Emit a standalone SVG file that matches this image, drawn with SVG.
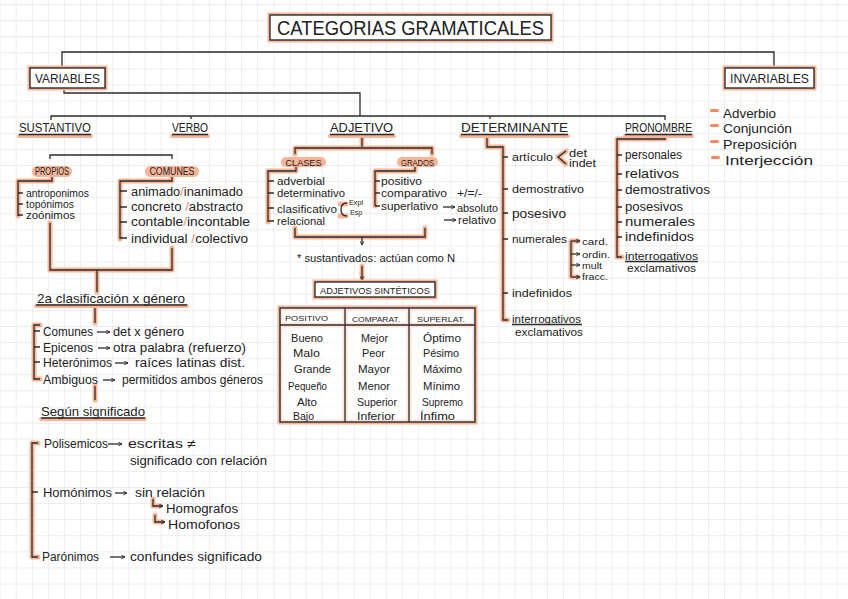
<svg xmlns="http://www.w3.org/2000/svg" width="848" height="599" viewBox="0 0 848 599">
<defs>
<pattern id="grid" patternUnits="userSpaceOnUse" x="15.7" y="4" width="16.1" height="16.1">
<path d="M0 0 V16.1 M0 0 H16.1" stroke="#e6e6e6" stroke-width="1.3" fill="none"/>
</pattern>
<marker id="ah" viewBox="0 0 8 8" refX="7" refY="4" markerWidth="5" markerHeight="5" orient="auto" markerUnits="userSpaceOnUse">
<path d="M1 1 L7 4 L1 7" fill="none" stroke="#2b2b2b" stroke-width="1.4"/>
</marker>
<style>
.t{font-family:"Liberation Sans",Arial,sans-serif;fill:#222}
.c{text-anchor:middle}
.g{stroke:#f7b598;stroke-width:5;fill:none;stroke-linecap:round;stroke-linejoin:round}
.d{stroke:#2b2b2b;stroke-width:1.3;fill:none}
.a{stroke:#2b2b2b;stroke-width:1.3;fill:none;marker-end:url(#ah)}
.o{fill:#ef8a62}
.pill{fill:#f7b598}
.box{fill:#fff;stroke:#2b2b2b;stroke-width:1.4}
.boxg{fill:none;stroke:#f7b598;stroke-width:5}
.hu{stroke:#f7b598;stroke-width:4;fill:none;stroke-linecap:round}
</style>
</defs>
<rect width="848" height="599" fill="#fff"/>
<rect width="848" height="599" fill="url(#grid)"/>

<g id="connectors">
<path class="d" d="M62 68 V52 H774 V68"/>
<path class="d" d="M64 88 V93 H360 V116"/>
<path class="d" d="M51 120 V116 H665 V120 M191 116 V119 M490 116 V119"/>
<path class="d" d="M50 159 V155 H172 V159"/>
<path class="g" d="M52 177 V181 H18 V216"/>
<path class="d" d="M52 177 V181 H18 V216 M18 193 H23 M18 204 H23 M18 215 H23"/>
<path class="g" d="M172 177 V181 H120 V239"/>
<path class="d" d="M172 177 V181 H120 V239 M120 191 H127 M120 207 H127 M120 222 H127 M120 238 H127"/>
<path class="g" d="M50 223 V270 H172 V248 M97 270 V292"/>
<path class="d" d="M50 223 V270 H172 V248 M97 270 V292"/>
<path class="g" d="M95 307 V323"/>
<path class="d" d="M95 307 V323"/>
<path class="g" d="M40 325 H34 V379 H40"/>
<path class="d" d="M40 325 H34 V379 H40 M34 331 H40 M34 347 H40 M34 362 H40"/>
<path class="a" d="M97 332 H110"/>
<path class="a" d="M98 348 H110"/>
<path class="a" d="M115 363 H128"/>
<path class="a" d="M103 380 H115"/>
<path class="g" d="M95 386 V400"/>
<path class="d" d="M95 386 V400"/>
<path class="g" d="M38 443 H32 V557 H38"/>
<path class="d" d="M38 443 H32 V557 H38 M32 492 H38"/>
<path class="a" d="M108 444 H122"/>
<path class="a" d="M115 493 H127"/>
<path class="a" d="M110 557 H125"/>
<path class="g" d="M153 499 V506 H160 M155 515 V522 H162"/>
<path class="a" d="M153 499 V506 H163"/>
<path class="a" d="M155 515 V522 H165"/>
<path class="g" d="M362 138 V147 M295 154 V148 H432 V154"/>
<path class="d" d="M362 138 V147 M295 154 V148 H432 V154"/>
<path class="g" d="M296 167 V171 H268 V222"/>
<path class="d" d="M296 167 V171 H268 V222 M268 181 H274 M268 193 H274 M268 208 H274 M268 221 H274"/>
<path class="g" d="M415 167 V171 H375 V206"/>
<path class="d" d="M415 167 V171 H375 V206 M375 181 H380 M375 193 H380 M375 206 H380"/>
<path class="a" d="M443 207 H455"/>
<path class="a" d="M444 220 H456"/>
<path class="g" d="M340 204 L346 204 M340 216 L346 216"/>
<path class="d" d="M347 203 Q341 203 341 209.5 Q341 216 347 216"/>
<path class="g" d="M295 228 V237 H425 V228"/>
<path class="d" d="M295 228 V237 H425 V228"/>
<path class="a" d="M362 237 V245"/>
<path class="g" d="M362 266 V278"/>
<path class="a" d="M362 266 V280"/>
<path class="g" d="M487 136 V147 H503 V320 H508"/>
<path class="d" d="M487 136 V147 H503 V320 H508 M503 157 H508 M503 189 H508 M503 213 H508 M503 239 H508 M503 293 H508"/>
<path class="g" d="M566 151 L558 157 L566 164"/>
<path class="d" d="M566 151 L558 157 L566 164"/>
<path class="g" d="M578 241 H571 V277 H578"/>
<path class="a" d="M571 241 H580"/>
<path class="a" d="M571 254 H580"/>
<path class="a" d="M571 265 H580"/>
<path class="a" d="M571 277 V277 H580"/>
<path class="d" d="M571 241 V277"/>
<path class="g" d="M665 136 V139 H617 V257 H622"/>
<path class="d" d="M665 136 V139 H617 V257 H622 M617 155 H622 M617 174 H622 M617 190 H622 M617 207 H622 M617 222 H622 M617 237 H622"/>
</g>

<g id="title">
<rect class="boxg" x="270" y="15" width="281" height="25"/>
<rect class="box" x="270" y="15" width="281" height="25"/>
<text class="t" x="277" y="35" font-size="20" textLength="267" lengthAdjust="spacingAndGlyphs">CATEGORIAS  GRAMATICALES</text>
</g>

<g id="variables">
<rect class="boxg" x="30" y="68" width="75" height="20"/>
<rect class="box" x="30" y="68" width="75" height="20"/>
<text class="t" x="35" y="83" font-size="13" textLength="65" lengthAdjust="spacingAndGlyphs">VARIABLES</text>
</g>

<g id="invariables">
<rect class="boxg" x="725" y="68" width="89" height="20"/>
<rect class="box" x="725" y="68" width="89" height="20"/>
<text class="t" x="730" y="83" font-size="13" textLength="79" lengthAdjust="spacingAndGlyphs">INVARIABLES</text>
<rect class="o" x="710" y="109" width="9" height="3" rx="1.5"/>
<rect class="o" x="710" y="124" width="9" height="3" rx="1.5"/>
<rect class="o" x="710" y="140" width="9" height="3" rx="1.5"/>
<rect class="o" x="711" y="156" width="9" height="3" rx="1.5"/>
<text class="t" x="723" y="117.5" font-size="13.5" textLength="53" lengthAdjust="spacingAndGlyphs">Adverbio</text>
<text class="t" x="723" y="132.5" font-size="13.5" textLength="69" lengthAdjust="spacingAndGlyphs">Conjunción</text>
<text class="t" x="723" y="148.5" font-size="13.5" textLength="74" lengthAdjust="spacingAndGlyphs">Preposición</text>
<text class="t" x="725" y="164.5" font-size="13.5" textLength="88" lengthAdjust="spacingAndGlyphs">Interjección</text>
</g>

<g id="headings">
<path class="hu" d="M19 136 H91 M172 136 H208 M330 136 H394 M461 136 H568 M625 136 H692"/>
<path class="d" d="M19 134.5 H91 M172 134.5 H208 M330 134.5 H394 M461 134.5 H568 M625 134.5 H692" stroke-width="1"/>
<text class="t" x="19" y="132" font-size="12" textLength="72" lengthAdjust="spacingAndGlyphs">SUSTANTIVO</text>
<text class="t" x="172" y="132" font-size="12" textLength="36" lengthAdjust="spacingAndGlyphs">VERBO</text>
<text class="t" x="330" y="132" font-size="12" textLength="63" lengthAdjust="spacingAndGlyphs">ADJETIVO</text>
<text class="t" x="461" y="132" font-size="12" textLength="107" lengthAdjust="spacingAndGlyphs">DETERMINANTE</text>
<text class="t" x="625" y="132" font-size="12" textLength="67" lengthAdjust="spacingAndGlyphs">PRONOMBRE</text>
</g>

<g id="sustantivo">
<rect class="pill" x="32" y="166" width="40" height="11" rx="5.5"/>
<text class="t c" x="52" y="175" font-size="10" textLength="34" lengthAdjust="spacingAndGlyphs">PROPIOS</text>
<rect class="pill" x="145" y="166" width="54" height="11" rx="5.5"/>
<text class="t c" x="172" y="175" font-size="10" textLength="45" lengthAdjust="spacingAndGlyphs">COMUNES</text>
<text class="t" x="26" y="196.5" font-size="10" textLength="63" lengthAdjust="spacingAndGlyphs">antroponimos</text>
<text class="t" x="26" y="207.5" font-size="10" textLength="48" lengthAdjust="spacingAndGlyphs">topónimos</text>
<text class="t" x="26" y="218.5" font-size="10" textLength="49" lengthAdjust="spacingAndGlyphs">zoónimos</text>
<text class="t" x="131" y="195.5" font-size="12.5" textLength="112" lengthAdjust="spacingAndGlyphs">animado<tspan class="o">/</tspan>inanimado</text>
<text class="t" x="131" y="211" font-size="12.5" textLength="112" lengthAdjust="spacingAndGlyphs">concreto <tspan class="o">/</tspan>abstracto</text>
<text class="t" x="131" y="226" font-size="12.5" textLength="119" lengthAdjust="spacingAndGlyphs">contable<tspan class="o">/</tspan>incontable</text>
<text class="t" x="131" y="242.5" font-size="12.5" textLength="117" lengthAdjust="spacingAndGlyphs">individual <tspan class="o">/</tspan>colectivo</text>
</g>

<g id="genero">
<path class="hu" d="M36 306 H187"/>
<path class="d" d="M36 305 H187" stroke-width="1"/>
<text class="t" x="37" y="303" font-size="13" textLength="148" lengthAdjust="spacingAndGlyphs">2a clasificación x género</text>
<text class="t" x="43" y="335.5" font-size="12.5" textLength="50" lengthAdjust="spacingAndGlyphs">Comunes</text>
<text class="t" x="113" y="335.5" font-size="12.5" textLength="71" lengthAdjust="spacingAndGlyphs">det x género</text>
<text class="t" x="43" y="351.5" font-size="12.5" textLength="50" lengthAdjust="spacingAndGlyphs">Epicenos</text>
<text class="t" x="113" y="351.5" font-size="12.5" textLength="133" lengthAdjust="spacingAndGlyphs">otra palabra (refuerzo)</text>
<text class="t" x="43" y="366.5" font-size="12.5" textLength="69" lengthAdjust="spacingAndGlyphs">Heterónimos</text>
<text class="t" x="135" y="366.5" font-size="12.5" textLength="110" lengthAdjust="spacingAndGlyphs">raíces latinas dist.</text>
<text class="t" x="43" y="383.5" font-size="12.5" textLength="55" lengthAdjust="spacingAndGlyphs">Ambiguos</text>
<text class="t" x="122" y="383.5" font-size="12.5" textLength="141" lengthAdjust="spacingAndGlyphs">permitidos ambos géneros</text>
</g>

<g id="significado">
<path class="hu" d="M41 419 H145"/>
<path class="d" d="M41 418 H145" stroke-width="1"/>
<text class="t" x="41" y="415.5" font-size="13" textLength="104" lengthAdjust="spacingAndGlyphs">Según significado</text>
<text class="t" x="44" y="447.5" font-size="12.5" textLength="64" lengthAdjust="spacingAndGlyphs">Polisemicos</text>
<text class="t" x="128" y="447.5" font-size="12.5" textLength="68" lengthAdjust="spacingAndGlyphs">escritas ≠</text>
<text class="t" x="130" y="464.5" font-size="12.5" textLength="137" lengthAdjust="spacingAndGlyphs">significado con relación</text>
<text class="t" x="43" y="496.5" font-size="12.5" textLength="69" lengthAdjust="spacingAndGlyphs">Homónimos</text>
<text class="t" x="135" y="496.5" font-size="12.5" textLength="70" lengthAdjust="spacingAndGlyphs">sin relación</text>
<text class="t" x="166" y="512.5" font-size="12.5" textLength="72" lengthAdjust="spacingAndGlyphs">Homografos</text>
<text class="t" x="168" y="528.5" font-size="12.5" textLength="72" lengthAdjust="spacingAndGlyphs">Homofonos</text>
<text class="t" x="42" y="560.5" font-size="12.5" textLength="57" lengthAdjust="spacingAndGlyphs">Parónimos</text>
<text class="t" x="130" y="560.5" font-size="12.5" textLength="132" lengthAdjust="spacingAndGlyphs">confundes significado</text>
</g>

<g id="adjetivo">
<rect class="pill" x="281" y="157" width="45" height="10" rx="5"/>
<text class="t c" x="303.5" y="165.5" font-size="9.5" textLength="36" lengthAdjust="spacingAndGlyphs">CLASES</text>
<rect class="pill" x="397" y="157" width="41" height="10" rx="5"/>
<text class="t c" x="417.5" y="165.5" font-size="9.5" textLength="33" lengthAdjust="spacingAndGlyphs">GRADOS</text>
<text class="t" x="277" y="185" font-size="11" textLength="48" lengthAdjust="spacingAndGlyphs">adverbial</text>
<text class="t" x="277" y="197" font-size="11" textLength="68" lengthAdjust="spacingAndGlyphs">determinativo</text>
<text class="t" x="277" y="213" font-size="11" textLength="60" lengthAdjust="spacingAndGlyphs">clasificativo</text>
<text class="t" x="349" y="205" font-size="6.5" textLength="14" lengthAdjust="spacingAndGlyphs">Expl</text>
<text class="t" x="350" y="215" font-size="6.5" textLength="12" lengthAdjust="spacingAndGlyphs">Esp</text>
<text class="t" x="277" y="225" font-size="11" textLength="48" lengthAdjust="spacingAndGlyphs">relacional</text>
<text class="t" x="381" y="185" font-size="11" textLength="41" lengthAdjust="spacingAndGlyphs">positivo</text>
<text class="t" x="381" y="197" font-size="11" textLength="66" lengthAdjust="spacingAndGlyphs">comparativo</text>
<text class="t" x="457" y="197" font-size="11" textLength="25" lengthAdjust="spacingAndGlyphs">+/=/-</text>
<text class="t" x="381" y="210" font-size="11" textLength="57" lengthAdjust="spacingAndGlyphs">superlativo</text>
<text class="t" x="457" y="212" font-size="11" textLength="41" lengthAdjust="spacingAndGlyphs">absoluto</text>
<text class="t" x="458" y="224" font-size="11" textLength="38" lengthAdjust="spacingAndGlyphs">relativo</text>
<text class="t" x="297" y="261.5" font-size="10.5" textLength="158" lengthAdjust="spacingAndGlyphs">* sustantivados: actúan como N</text>
</g>

<g id="sinteticos">
<rect class="boxg" x="315" y="282" width="120" height="15"/>
<rect class="box" x="315" y="282" width="120" height="15"/>
<text class="t" x="320" y="293.5" font-size="9" textLength="110" lengthAdjust="spacingAndGlyphs">ADJETIVOS SINTÉTICOS</text>
</g>

<g id="tabla">
<rect class="boxg" x="280" y="308" width="195" height="114"/>
<path class="g" d="M345 308 V422 M409 308 V422 M280 325 H475"/>
<rect x="280" y="308" width="195" height="114" fill="#fff" fill-opacity="0.6" stroke="#2b2b2b" stroke-width="1.4"/>
<path class="d" d="M345 308 V422 M409 308 V422 M280 325 H475" stroke-width="1.4"/>
<text class="t" x="285" y="321" font-size="8" textLength="43" lengthAdjust="spacingAndGlyphs">POSITIVO</text>
<text class="t" x="352" y="322" font-size="8" textLength="48" lengthAdjust="spacingAndGlyphs">COMPARAT.</text>
<text class="t" x="417" y="322" font-size="8" textLength="48" lengthAdjust="spacingAndGlyphs">SUPERLAT.</text>
<g font-size="11.5">
<text class="t" x="291" y="342" textLength="32" lengthAdjust="spacingAndGlyphs">Bueno</text>
<text class="t" x="293" y="357" textLength="27" lengthAdjust="spacingAndGlyphs">Malo</text>
<text class="t" x="294" y="373" textLength="37" lengthAdjust="spacingAndGlyphs">Grande</text>
<text class="t" x="288" y="390" textLength="39" lengthAdjust="spacingAndGlyphs">Pequeño</text>
<text class="t" x="297" y="406" textLength="20" lengthAdjust="spacingAndGlyphs">Alto</text>
<text class="t" x="293" y="420" textLength="21" lengthAdjust="spacingAndGlyphs">Bajo</text>
<text class="t" x="361" y="342" textLength="27" lengthAdjust="spacingAndGlyphs">Mejor</text>
<text class="t" x="362" y="357" textLength="23" lengthAdjust="spacingAndGlyphs">Peor</text>
<text class="t" x="358" y="373" textLength="32" lengthAdjust="spacingAndGlyphs">Mayor</text>
<text class="t" x="358" y="390" textLength="32" lengthAdjust="spacingAndGlyphs">Menor</text>
<text class="t" x="357" y="406" textLength="40" lengthAdjust="spacingAndGlyphs">Superior</text>
<text class="t" x="357" y="420" textLength="38" lengthAdjust="spacingAndGlyphs">Inferior</text>
<text class="t" x="423" y="342" textLength="38" lengthAdjust="spacingAndGlyphs">Óptimo</text>
<text class="t" x="423" y="357" textLength="36" lengthAdjust="spacingAndGlyphs">Pésimo</text>
<text class="t" x="423" y="373" textLength="39" lengthAdjust="spacingAndGlyphs">Máximo</text>
<text class="t" x="423" y="390" textLength="37" lengthAdjust="spacingAndGlyphs">Mínimo</text>
<text class="t" x="422" y="406" textLength="41" lengthAdjust="spacingAndGlyphs">Supremo</text>
<text class="t" x="420" y="420" textLength="35" lengthAdjust="spacingAndGlyphs">Ínfimo</text>
</g>
</g>

<g id="determinante">
<text class="t" x="512" y="161" font-size="11.5" textLength="41" lengthAdjust="spacingAndGlyphs">artículo</text>
<text class="t" x="569" y="156.5" font-size="10" textLength="18" lengthAdjust="spacingAndGlyphs">det</text>
<text class="t" x="569" y="166.5" font-size="10" textLength="27" lengthAdjust="spacingAndGlyphs">indet</text>
<text class="t" x="512" y="193" font-size="11.5" textLength="72" lengthAdjust="spacingAndGlyphs">demostrativo</text>
<text class="t" x="512" y="217.5" font-size="12.5" textLength="54" lengthAdjust="spacingAndGlyphs">posesivo</text>
<text class="t" x="512" y="243" font-size="11" textLength="55" lengthAdjust="spacingAndGlyphs">numerales</text>
<text class="t" x="582" y="244.5" font-size="9.5" textLength="26" lengthAdjust="spacingAndGlyphs">card.</text>
<text class="t" x="582" y="257.5" font-size="9.5" textLength="28" lengthAdjust="spacingAndGlyphs">ordin.</text>
<text class="t" x="582" y="268.5" font-size="9.5" textLength="20" lengthAdjust="spacingAndGlyphs">mult</text>
<text class="t" x="582" y="280" font-size="9.5" textLength="26" lengthAdjust="spacingAndGlyphs">fracc.</text>
<text class="t" x="512" y="297" font-size="11" textLength="60" lengthAdjust="spacingAndGlyphs">indefinidos</text>
<path class="d" d="M512 324.5 H582" stroke-width="1"/>
<text class="t" x="512" y="323" font-size="11" textLength="69" lengthAdjust="spacingAndGlyphs">interrogativos</text>
<text class="t" x="515" y="335.5" font-size="11" textLength="68" lengthAdjust="spacingAndGlyphs">exclamativos</text>
</g>

<g id="pronombre">
<text class="t" x="625" y="159" font-size="12" textLength="57" lengthAdjust="spacingAndGlyphs">personales</text>
<text class="t" x="625" y="178" font-size="12" textLength="54" lengthAdjust="spacingAndGlyphs">relativos</text>
<text class="t" x="625" y="194" font-size="12" textLength="85" lengthAdjust="spacingAndGlyphs">demostrativos</text>
<text class="t" x="625" y="211" font-size="12" textLength="58" lengthAdjust="spacingAndGlyphs">posesivos</text>
<text class="t" x="625" y="226" font-size="12" textLength="70" lengthAdjust="spacingAndGlyphs">numerales</text>
<text class="t" x="625" y="241" font-size="12" textLength="69" lengthAdjust="spacingAndGlyphs">indefinidos</text>
<path class="d" d="M625 261.5 H698" stroke-width="1"/>
<text class="t" x="625" y="260" font-size="11" textLength="73" lengthAdjust="spacingAndGlyphs">interrogativos</text>
<text class="t" x="627" y="271.5" font-size="11" textLength="69" lengthAdjust="spacingAndGlyphs">exclamativos</text>
</g>
</svg>
